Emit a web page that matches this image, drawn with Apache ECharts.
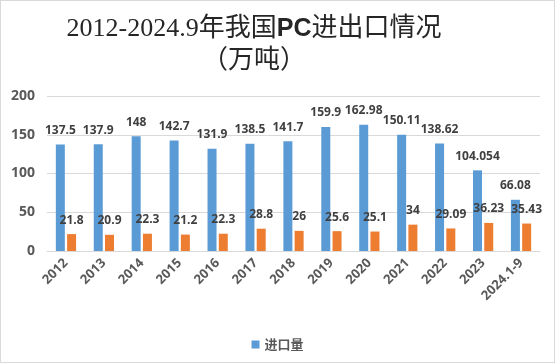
<!DOCTYPE html>
<html><head><meta charset="utf-8">
<script src="https://cdn.jsdelivr.net/npm/echarts@6/dist/echarts.min.js"></script>
<style>html,body{margin:0;padding:0;background:#fff}#c{width:553px;height:361px;border:1px solid #d9d9d9}</style>
</head><body><div id="c"></div>
<script>
const categories=['2012','2013','2014','2015','2016','2017','2018','2019','2020','2021','2022','2023','2024.1-9'];
const importVals=[137.5,137.9,148,142.7,131.9,138.5,141.7,159.9,162.98,150.11,138.62,104.054,66.08];
const exportVals=[21.8,20.9,22.3,21.2,22.3,28.8,26,25.6,25.1,34,29.09,36.23,35.43];
const yTicks={min:0,max:200,interval:50};
const chart=echarts.init(document.getElementById('c'));
const lbl={show:true,position:'top',distance:8,color:'#404040',fontSize:12,fontWeight:'bold',fontFamily:'Open Sans, DejaVu Sans, sans-serif'};
chart.setOption({
  animation:false,
  title:{
    text:'{s|2012-2024.9年我国}{b|PC}{s|进出口情况}\n{s|（万吨）}',
    left:248,top:7,textAlign:'center',
    textStyle:{fontWeight:'normal',rich:{
      s:{fontFamily:'Liberation Serif, Noto Sans CJK SC, serif',fontSize:26,fontWeight:'normal',color:'#262626',lineHeight:32},
      b:{fontFamily:'Liberation Sans, Arial, sans-serif',fontSize:25,fontWeight:'bold',color:'#262626',lineHeight:32}
    }}
  },
  legend:{bottom:6,left:'center',itemWidth:8,itemHeight:8,icon:'rect',
    data:['进口量'],textStyle:{color:'#595959',fontSize:13,fontWeight:'bold',fontFamily:'Noto Sans CJK SC'}},
  grid:{left:46,right:14,top:95,bottom:111},
  xAxis:{type:'category',data:categories,
    axisLine:{lineStyle:{color:'#d9d9d9'}},axisTick:{show:false},
    axisLabel:{rotate:45,color:'#595959',fontSize:13,fontWeight:'bold',fontFamily:'Open Sans, DejaVu Sans, sans-serif',interval:0,margin:10}},
  yAxis:{type:'value',min:yTicks.min,max:yTicks.max,interval:yTicks.interval,
    axisLine:{show:false},axisTick:{show:false},
    splitLine:{lineStyle:{color:'#d9d9d9'}},
    axisLabel:{color:'#595959',fontSize:14,fontWeight:'bold',fontFamily:'Open Sans, DejaVu Sans, sans-serif',margin:12}},
  series:[
    {name:'进口量',type:'bar',data:importVals,barWidth:9,barGap:'25%',itemStyle:{color:'#5b9bd5'},label:lbl},
    {name:'出口量',type:'bar',data:exportVals,barWidth:9,itemStyle:{color:'#ed7d31'},label:lbl}
  ]
});
</script></body></html>
